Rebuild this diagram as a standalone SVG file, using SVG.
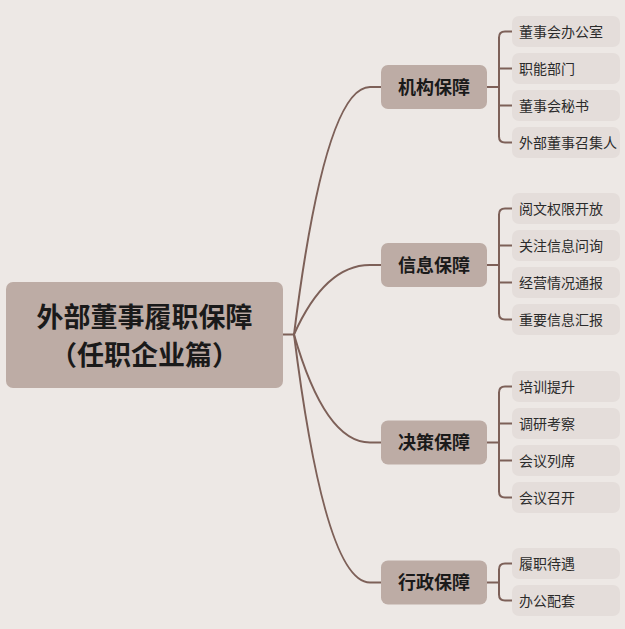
<svg xmlns="http://www.w3.org/2000/svg" width="625" height="629" viewBox="0 0 625 629">
<style>
.bg{fill:#ede8e5}
.root{fill:#bdaca5}
.l1{fill:#bdaca5}
.leaf{fill:#e4ddda}
.ln{fill:none;stroke:#7d6058;stroke-width:2;stroke-linecap:round;stroke-linejoin:round}
text{font-family:"Noto Sans CJK SC","Noto Sans",sans-serif;fill:#1a1a1a}
.t0{font-size:27px;font-weight:bold;text-anchor:middle}
.t1{font-size:18px;font-weight:bold;text-anchor:middle}
.t2{font-size:14px;fill:#2b2b2b}
</style>
<rect class="bg" width="625" height="629"/>
<g id="connectors">
<path class="ln" d="M283,334.5 H294"/>
<path class="ln" d="M294,334.5 Q325,87 370,87 H381"/>
<path class="ln" d="M294,334.5 Q325,265 370,265 H381"/>
<path class="ln" d="M294,334.5 Q325,442.5 370,442.5 H381"/>
<path class="ln" d="M294,334.5 Q325,582.5 370,582.5 H381"/>
<path class="ln" d="M487,87 H499 M512,31.5 H505 Q499,31.5 499,37.5 V136.5 Q499,142.5 505,142.5 H512 M499,68.5 Q499,68.5 505,68.5 H512 M499,105.5 H512"/>
<path class="ln" d="M487,265 H499 M512,208.5 H505 Q499,208.5 499,214.5 V313.5 Q499,319.5 505,319.5 H512 M499,245.5 H512 M499,282.5 H512"/>
<path class="ln" d="M487,442.5 H499 M512,386.5 H505 Q499,386.5 499,392.5 V491.5 Q499,497.5 505,497.5 H512 M499,423.5 H512 M499,460.5 H512"/>
<path class="ln" d="M487,582.5 H499 M512,563.5 H505 Q499,563.5 499,569.5 V594.5 Q499,600.5 505,600.5 H512"/>
</g>
<g id="root"><rect class="root" x="6" y="282" width="277" height="106" rx="7"/><text class="t0" x="144.5" y="326.5">外部董事履职保障</text><text class="t0" x="144.5" y="364.5">（任职企业篇）</text></g>
<g id="n1"><rect class="l1" x="381" y="65" width="106" height="44" rx="7"/><text class="t1" x="434" y="93.5">机构保障</text></g>
<g id="n2"><rect class="l1" x="381" y="243" width="106" height="44" rx="7"/><text class="t1" x="434" y="271.5">信息保障</text></g>
<g id="n3"><rect class="l1" x="381" y="420.5" width="106" height="44" rx="7"/><text class="t1" x="434" y="449">决策保障</text></g>
<g id="n4"><rect class="l1" x="381" y="560.5" width="106" height="44" rx="7"/><text class="t1" x="434" y="589">行政保障</text></g>
<g id="n1a"><rect class="leaf" x="512" y="16" width="108" height="31" rx="7"/><text class="t2" x="519" y="36.5">董事会办公室</text></g>
<g id="n1b"><rect class="leaf" x="512" y="53" width="108" height="31" rx="7"/><text class="t2" x="519" y="73.5">职能部门</text></g>
<g id="n1c"><rect class="leaf" x="512" y="90" width="108" height="31" rx="7"/><text class="t2" x="519" y="110.5">董事会秘书</text></g>
<g id="n1d"><rect class="leaf" x="512" y="127" width="108" height="31" rx="7"/><text class="t2" x="519" y="147.5">外部董事召集人</text></g>
<g id="n2a"><rect class="leaf" x="512" y="193" width="108" height="31" rx="7"/><text class="t2" x="519" y="213.5">阅文权限开放</text></g>
<g id="n2b"><rect class="leaf" x="512" y="230" width="108" height="31" rx="7"/><text class="t2" x="519" y="250.5">关注信息问询</text></g>
<g id="n2c"><rect class="leaf" x="512" y="267" width="108" height="31" rx="7"/><text class="t2" x="519" y="287.5">经营情况通报</text></g>
<g id="n2d"><rect class="leaf" x="512" y="304" width="108" height="31" rx="7"/><text class="t2" x="519" y="324.5">重要信息汇报</text></g>
<g id="n3a"><rect class="leaf" x="512" y="371" width="108" height="31" rx="7"/><text class="t2" x="519" y="391.5">培训提升</text></g>
<g id="n3b"><rect class="leaf" x="512" y="408" width="108" height="31" rx="7"/><text class="t2" x="519" y="428.5">调研考察</text></g>
<g id="n3c"><rect class="leaf" x="512" y="445" width="108" height="31" rx="7"/><text class="t2" x="519" y="465.5">会议列席</text></g>
<g id="n3d"><rect class="leaf" x="512" y="482" width="108" height="31" rx="7"/><text class="t2" x="519" y="502.5">会议召开</text></g>
<g id="n4a"><rect class="leaf" x="512" y="548" width="108" height="31" rx="7"/><text class="t2" x="519" y="568.5">履职待遇</text></g>
<g id="n4b"><rect class="leaf" x="512" y="585" width="108" height="31" rx="7"/><text class="t2" x="519" y="605.5">办公配套</text></g>
</svg>
